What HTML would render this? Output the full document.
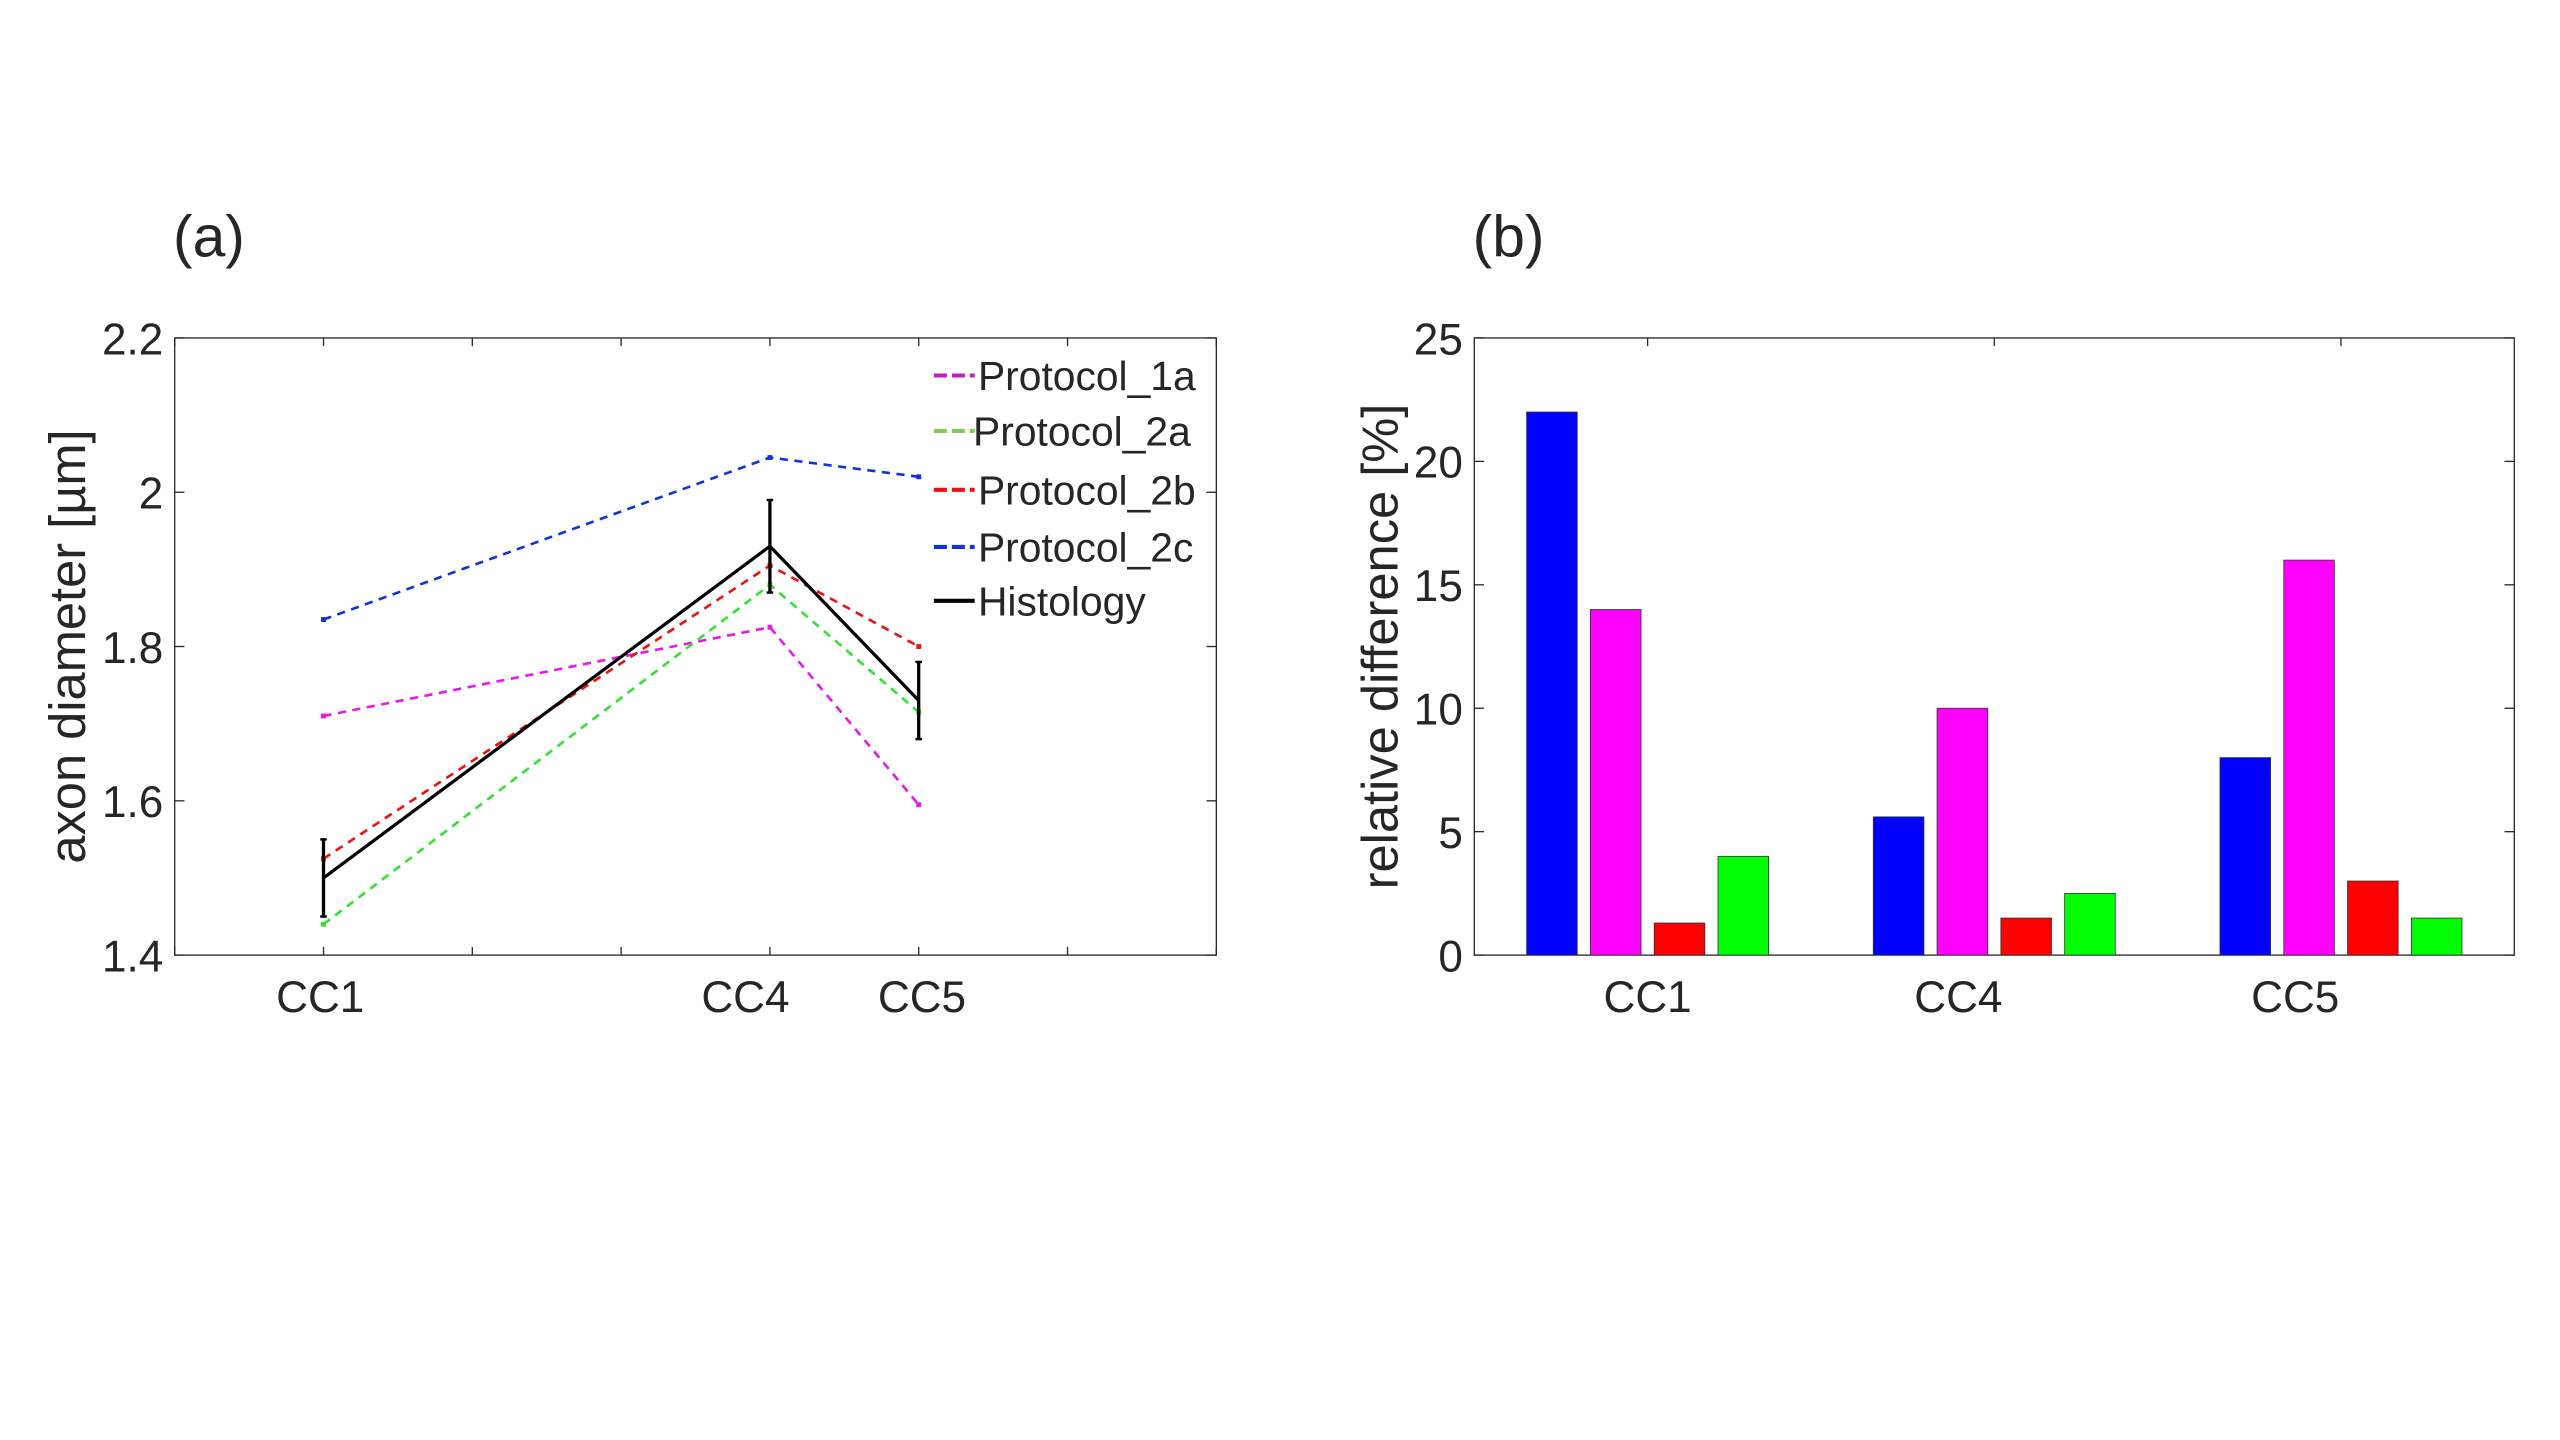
<!DOCTYPE html>
<html><head><meta charset="utf-8"><style>
html,body{margin:0;padding:0;background:#fff;}
svg{display:block;}
text{font-family:"Liberation Sans",Arial,sans-serif;fill:#262626;}
</style></head><body>
<svg id="fig" width="2560" height="1440" viewBox="0 0 1568 882" xmlns="http://www.w3.org/2000/svg">
<rect width="1568" height="882" fill="#fff"/>
<text x="106" y="157" font-size="36">(a)</text>
<text x="902" y="157" font-size="36">(b)</text>
<g id="pa"></g>
<g id="pb"></g>
</svg>
<script>
// ---- Panel (a) data ----
const lineCats = ["CC1","CC4","CC5"];
const lineCatX = [1,4,5];
const p1a = [1.71,1.825,1.595];
const p2a = [1.44,1.88,1.715];
const p2b = [1.525,1.905,1.80];
const p2c = [1.835,2.045,2.02];
const hist = [1.50,1.93,1.73];
const histErr = [0.05,0.06,0.05];
const yTicksA = [1.4,1.6,1.8,2,2.2];
const yTickLabelsA = ["1.4","1.6","1.8","2","2.2"];
// ---- Panel (b) data ----
const barCats = ["CC1","CC4","CC5"];
const barBlue = [22,5.6,8];
const barMagenta = [14,10,16];
const barRed = [1.3,1.5,3];
const barGreen = [4,2.5,1.5];
const yTicksB = [0,5,10,15,20,25];

const NS="http://www.w3.org/2000/svg";
function mk(parent,tag,attrs){const e=document.createElementNS(NS,tag);for(const k in attrs)e.setAttribute(k,attrs[k]);parent.appendChild(e);return e;}

// Panel A
(function(){
const g=document.getElementById('pa');
const L=107,R=745,T=207,B=585;
const xs=v=>L+(v-0)/7*(R-L);
const ys=v=>B-(v-1.4)/0.8*(B-T);
let box=mk(g,'rect',{x:L,y:T,width:R-L,height:B-T,fill:'none',stroke:'#262626','stroke-width':0.8});


for(let i=0;i<=7;i++){const x=xs(i);
 let t=mk(g,'line',{x1:x,y1:B,x2:x,y2:B-5,stroke:'#262626','stroke-width':0.8});
 
 let t2=mk(g,'line',{x1:x,y1:T,x2:x,y2:T+5,stroke:'#262626','stroke-width':0.8});
 }
yTicksA.forEach((v,i)=>{const y=ys(v);
 let t=mk(g,'line',{x1:L,y1:y,x2:L+6,y2:y,stroke:'#262626','stroke-width':0.8});
 
 let t2=mk(g,'line',{x1:R,y1:y,x2:R-6,y2:y,stroke:'#262626','stroke-width':0.8});
 
 let tx=mk(g,'text',{x:L-7,y:y+10,'font-size':27,'text-anchor':'end'});tx.textContent=yTickLabelsA[i];
 });
const labOff=[-2,-15,2];
lineCats.forEach((c,i)=>{let tx=mk(g,'text',{x:xs(lineCatX[i])+labOff[i],y:620,'font-size':27,'text-anchor':'middle'});tx.textContent=c;
 });
let yl=mk(g,'text',{x:0,y:0,'font-size':31,'text-anchor':'middle',transform:'translate(52,396) rotate(-90)'});yl.textContent='axon diameter [µm]';

const series=[[p1a,'#e619e6','protocol-1a-line'],[p2a,'#33e033','protocol-2a-line'],[p2b,'#ee1111','protocol-2b-line'],[p2c,'#1133dd','protocol-2c-line']];
series.forEach(([d,col,nm])=>{
 const pts=d.map((v,i)=>xs(lineCatX[i])+','+ys(v)).join(' ');
 let pl=mk(g,'polyline',{points:pts,fill:'none',stroke:col,'stroke-width':1.6,'stroke-dasharray':'5,4'});
 
 d.forEach((v,i)=>{let p=mk(g,'rect',{x:xs(lineCatX[i])-1.5,y:ys(v)-1.5,width:3,height:3,fill:col});
  });
});
let hl=mk(g,'polyline',{points:hist.map((v,i)=>xs(lineCatX[i])+','+ys(v)).join(' '),fill:'none',stroke:'#000','stroke-width':2});

hist.forEach((v,i)=>{const x=xs(lineCatX[i]);
 let e=mk(g,'line',{x1:x,y1:ys(v-histErr[i]),x2:x,y2:ys(v+histErr[i]),stroke:'#000','stroke-width':2});
 
 [v-histErr[i],v+histErr[i]].forEach(w=>{let c=mk(g,'line',{x1:x-2,y1:ys(w),x2:x+2,y2:ys(w),stroke:'#000','stroke-width':1.5});
  });});
const leg=[['Protocol_1a','#c020c0',230],['Protocol_2a','#80d050',264],['Protocol_2b','#ee1111',300],['Protocol_2c','#1133dd',335],['Histology','#000',368]];
leg.forEach(([t,col,y],i)=>{
 let ln=mk(g,'line',{x1:572,y1:y,x2:597,y2:y,stroke:col,'stroke-width':2.5,'stroke-dasharray':i<4?'8,3':'none'});
 
 let tx=mk(g,'text',{x:i==1?596:599,y:y+9,'font-size':25});tx.textContent=t;
 });
})();

// Panel B
(function(){
const g=document.getElementById('pb');
const L=903,R=1540,T=207,B=585;
const xs=v=>L+(v-0.5)/3*(R-L);
const ys=v=>B-v/25*(B-T);
let box=mk(g,'rect',{x:L,y:T,width:R-L,height:B-T,fill:'none',stroke:'#262626','stroke-width':0.8});

yTicksB.forEach(v=>{const y=ys(v);
 let t=mk(g,'line',{x1:L,y1:y,x2:L+6,y2:y,stroke:'#262626','stroke-width':0.8});
 
 let t2=mk(g,'line',{x1:R,y1:y,x2:R-6,y2:y,stroke:'#262626','stroke-width':0.8});
 
 let tx=mk(g,'text',{x:L-7,y:y+10,'font-size':27,'text-anchor':'end'});tx.textContent=String(v);
 });
const labOff=[0,-22,-28];
barCats.forEach((c,i)=>{const x=xs(i+1);
 let t=mk(g,'line',{x1:x,y1:T,x2:x,y2:T+5,stroke:'#262626','stroke-width':0.8});
 
 let tx=mk(g,'text',{x:x+labOff[i],y:620,'font-size':27,'text-anchor':'middle'});tx.textContent=c;
 });
let yl=mk(g,'text',{x:0,y:0,'font-size':31,'text-anchor':'middle',transform:'translate(856,396) rotate(-90)'});yl.textContent='relative difference [%]';

const bs=[[barBlue,'#0000ff','bar-blue'],[barMagenta,'#ff00ff','bar-magenta'],[barRed,'#ff0000','bar-red'],[barGreen,'#00ff00','bar-green']];
const bw=0.146,step=0.184;
bs.forEach(([d,col,nm],k)=>{d.forEach((v,i)=>{
 const c=i+1+(k-1.5)*step;
 const x0=xs(c-bw/2),x1=xs(c+bw/2);
 let r=mk(g,'rect',{x:x0,y:ys(v),width:x1-x0,height:ys(0)-ys(v),fill:col,stroke:'#333','stroke-width':0.5});
 
 });});
})();
</script>
</body></html>
